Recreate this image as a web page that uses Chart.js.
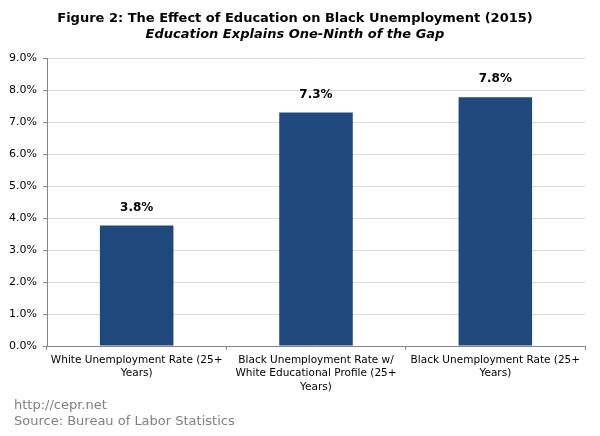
<!DOCTYPE html>
<html>
<head>
<meta charset="utf-8">
<script src="https://cdn.jsdelivr.net/npm/chart.js@4"></script>
<style>
  html, body { margin: 0; padding: 0; background: #fff; }
  #wrap { position: relative; width: 600px; height: 436px; }
  #footer { position: absolute; left: 14px; top: 397px; font: 13px "DejaVu Sans", Verdana, sans-serif; color: #808080; line-height: 16px; }
</style>
</head>
<body>
<div id="wrap">
  <canvas id="chart" width="600" height="436"></canvas>
  <div id="footer">http://cepr.net<br>Source: Bureau of Labor Statistics</div>
</div>
<script>
// categories, wrapped the way the figure shows them
const categories = [
  ["White Unemployment Rate (25+", "Years)"],
  ["Black Unemployment Rate w/", "White Educational Profile (25+", "Years)"],
  ["Black Unemployment Rate (25+", "Years)"],
];
const rates = [3.77, 7.3, 7.78];
const rateLabels = ["3.8%", "7.3%", "7.8%"];
const yTicks = [0, 1, 2, 3, 4, 5, 6, 7, 8, 9];

const FONT = "'DejaVu Sans', Verdana, sans-serif";
const BAR = "#1F497D";

// draws the bold value above each bar
const valueLabels = {
  id: "valueLabels",
  afterDatasetsDraw(chart) {
    const { ctx } = chart;
    const meta = chart.getDatasetMeta(0);
    ctx.save();
    ctx.font = "bold 12px " + FONT;
    ctx.fillStyle = "#000";
    ctx.textAlign = "center";
    ctx.textBaseline = "bottom";
    meta.data.forEach((bar, i) => {
      ctx.fillText(rateLabels[i], bar.x, bar.y - 12);
    });
    ctx.restore();
  },
};

new Chart(document.getElementById("chart"), {
  type: "bar",
  data: {
    labels: categories,
    datasets: [
      {
        data: rates,
        backgroundColor: BAR,
        borderWidth: 0,
        categoryPercentage: 1,
        barPercentage: 0.41,
      },
    ],
  },
  options: {
    responsive: false,
    animation: false,
    layout: { padding: { left: 5, right: 15, top: 0, bottom: 39 } },
    plugins: {
      legend: { display: false },
      tooltip: { enabled: false },
      title: {
        display: true,
        text: "Figure 2: The Effect of Education on Black Unemployment (2015)",
        font: { family: FONT, size: 13, weight: "bold" },
        color: "#000",
        padding: { top: 11, bottom: 0 },
      },
      subtitle: {
        display: true,
        text: "Education Explains One-Ninth of the Gap",
        font: { family: FONT, size: 13, weight: "bold", style: "italic" },
        color: "#000",
        padding: { top: 0, bottom: 16 },
      },
    },
    scales: {
      x: {
        grid: { offset: true, drawOnChartArea: false, tickLength: 4, color: "#868686" },
        border: { color: "#868686" },
        ticks: { font: { family: FONT, size: 10.5, lineHeight: 1.3 }, color: "#000", maxRotation: 0, autoSkip: false, padding: 3 },
      },
      y: {
        min: 0,
        max: 9,
        afterBuildTicks(axis) {
          axis.ticks = yTicks.map((v) => ({ value: v }));
        },
        afterFit(axis) {
          axis.width = 42;
        },
        grid: { color: "#d9d9d9", tickLength: 4, tickColor: "#868686" },
        border: { color: "#868686" },
        ticks: {
          font: { family: FONT, size: 11 },
          color: "#000",
          padding: 6,
          callback: (v) => v.toFixed(1) + "%",
        },
      },
    },
  },
  plugins: [valueLabels],
});
</script>
</body>
</html>
